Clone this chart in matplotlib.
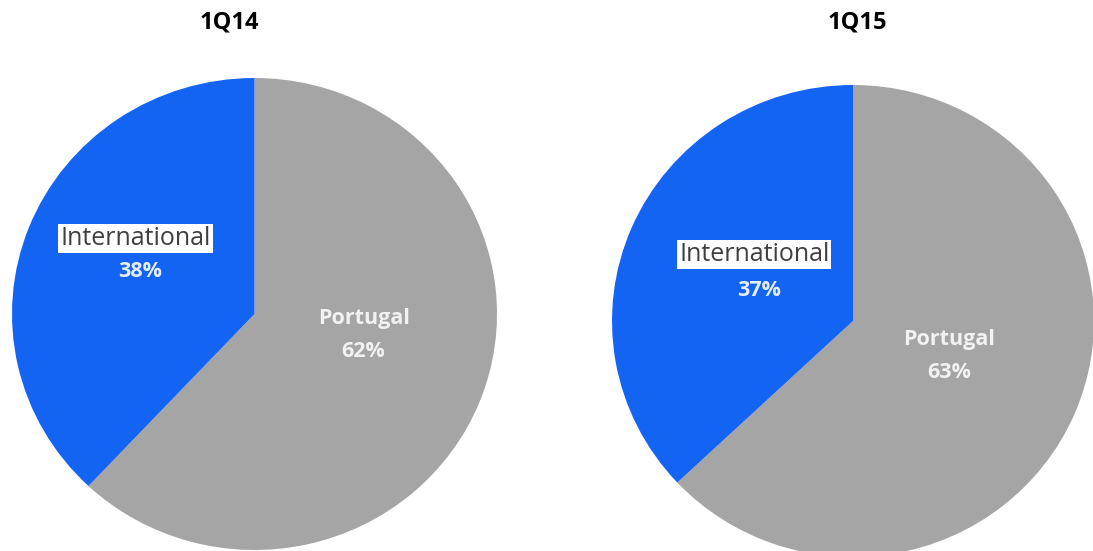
import matplotlib

matplotlib.use("Agg")

import matplotlib.pyplot as plt

# Revenue split by region
periods = ["1Q14", "1Q15"]
categories = ["Portugal", "International"]
shares = [
    [62, 38],  # 1Q14
    [63, 37],  # 1Q15
]

COLORS = ["#a5a5a5", "#1464f4"]
FONT = "Open Sans"

# axes boxes in figure fraction (left, bottom, width, height)
AX_BOXES = [
    (12 / 1093, 1 / 551, 485 / 1093, 472 / 551),
    (612 / 1093, -6 / 551, 482 / 1093, 472 / 551),
]
TITLE_X = [229 / 1093, 857 / 1093]

# label positions in pie data coords: (name xy, pct xy)
LABEL_POS = [
    {"Portugal": ((0.45, -0.02), (0.45, -0.16)),
     "International": ((-0.49, 0.32), (-0.47, 0.18))},
    {"Portugal": ((0.40, -0.08), (0.40, -0.22)),
     "International": ((-0.41, 0.28), (-0.39, 0.13))},
]


def main() -> None:
    fig = plt.figure(figsize=(10.93, 5.51), dpi=100)
    fig.patch.set_facecolor("white")

    for i, period in enumerate(periods):
        ax = fig.add_axes(AX_BOXES[i])
        wedges, _ = ax.pie(
            shares[i],
            colors=COLORS,
            startangle=90,
            counterclock=False,
            radius=1.0,
            wedgeprops=dict(linewidth=0),
        )
        ax.set_aspect("auto")
        ax.set_xlim(-1, 1)
        ax.set_ylim(-1, 1)
        ax.axis("off")

        for cat, val in zip(categories, shares[i]):
            (nx, ny), (px, py) = LABEL_POS[i][cat]
            if cat == "International":
                ax.text(nx, ny, cat, ha="center", va="center", fontsize=18,
                        family=FONT, color="#3f3f3f",
                        bbox=dict(boxstyle="square,pad=0.08", facecolor="white",
                                  edgecolor="none"))
                ax.text(px, py, f"{val}%", ha="center", va="center", fontsize=15.5,
                        family=FONT, fontweight="bold", color="#e6efff")
            else:
                ax.text(nx, ny, cat, ha="center", va="center", fontsize=15.5,
                        family=FONT, fontweight="bold", color="#f2f2f2")
                ax.text(px, py, f"{val}%", ha="center", va="center", fontsize=15.5,
                        family=FONT, fontweight="bold", color="#f2f2f2")

        fig.text(TITLE_X[i], 1 - 23 / 551, period, ha="center", va="center",
                 fontsize=17, fontweight="bold", family=FONT, color="black")

    fig.savefig("out.png", dpi=100, facecolor="white")
    plt.close(fig)


if __name__ == "__main__":
    main()
